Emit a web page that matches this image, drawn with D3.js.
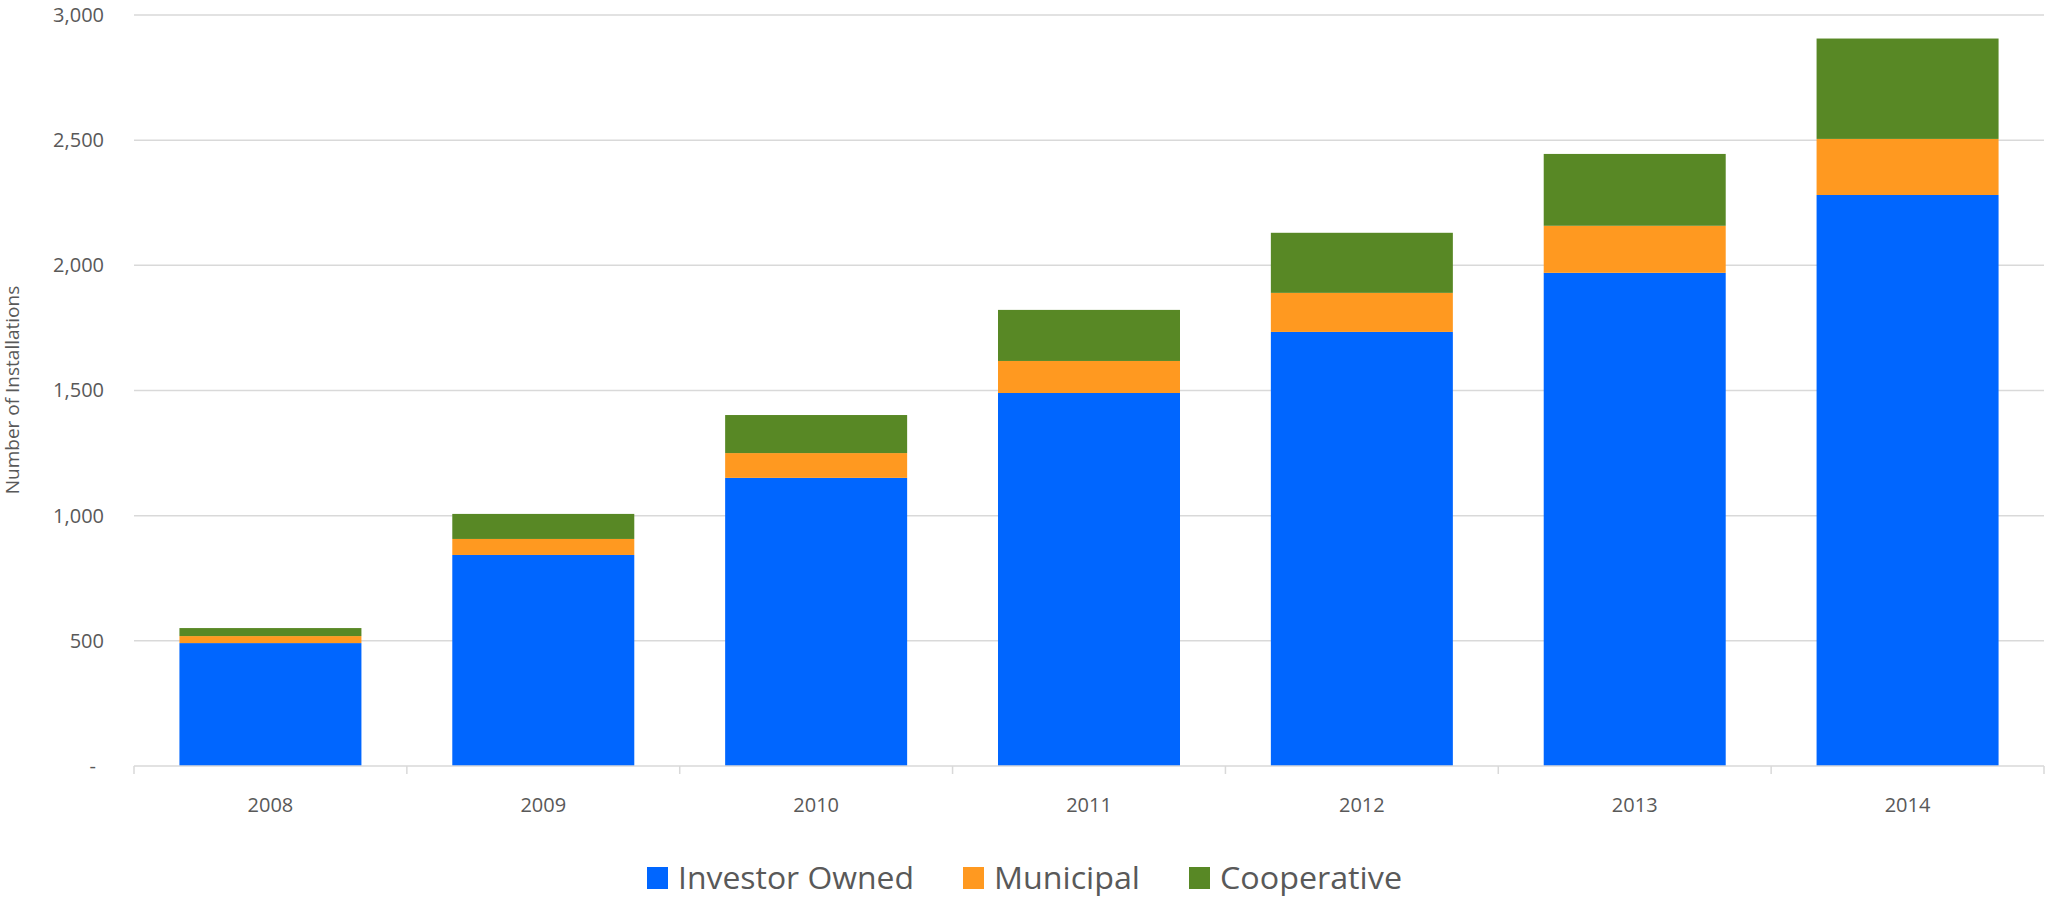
<!DOCTYPE html>
<html>
<head>
<meta charset="utf-8">
<script src="https://cdn.jsdelivr.net/npm/d3@7"></script>
<style>
  body { margin: 0; background: #fff; }
  text { font-family: "Open Sans", "Noto Sans", sans-serif; fill: #595959; }
</style>
</head>
<body>
<div id="chart"></div>
<script>
// data
const years = ['2008', '2009', '2010', '2011', '2012', '2013', '2014'];
const investorOwned = [491, 843, 1151, 1490, 1734, 1970, 2281];
const municipal = [28, 64, 99, 128, 156, 188, 224];
const cooperative = [32, 100, 152, 204, 240, 287, 401];
const yTicks = [0, 500, 1000, 1500, 2000, 2500, 3000];
const seriesNames = ['Investor Owned', 'Municipal', 'Cooperative'];
const seriesColors = ['#0066ff', '#ff9920', '#588825'];

const W = 2048, H = 901;
const margin = { top: 15, right: 4, bottom: 135, left: 134 };
const width = W - margin.left - margin.right;
const height = H - margin.top - margin.bottom;

const svg = d3.select('#chart')
    .append('svg')
    .attr('width', W)
    .attr('height', H);

const g = svg.append('g')
    .attr('transform', 'translate(' + margin.left + ',' + margin.top + ')');

const rows = years.map((y, i) => ({
    year: y,
    'Investor Owned': investorOwned[i],
    'Municipal': municipal[i],
    'Cooperative': cooperative[i]
}));
const stacked = d3.stack().keys(seriesNames)(rows);

const xScale = d3.scaleBand().domain(years).range([0, width]).paddingInner(0.333).paddingOuter(0.1665);
const xEdges = d3.scaleBand().domain(years).range([0, width]).padding(0);
const yScale = d3.scaleLinear().domain([0, 3000]).range([height, 0]);
const color = d3.scaleOrdinal().domain(seriesNames).range(seriesColors);

// gridlines
g.append('g')
    .selectAll('line')
    .data(yTicks.slice(1))
    .join('line')
    .attr('x1', 0).attr('x2', width)
    .attr('y1', d => yScale(d)).attr('y2', d => yScale(d))
    .attr('stroke', '#d9d9d9')
    .attr('stroke-width', 1.5);

// y axis labels
const yAxis = g.append('g')
    .call(d3.axisLeft(yScale).tickValues(yTicks).tickSize(0).tickPadding(30)
        .tickFormat(d => d === 0 ? '-' : d3.format(',')(d)));
yAxis.select('.domain').remove();
yAxis.selectAll('text').style('font-size', '20px').attr('fill', '#595959')
    .attr('x', d => d === 0 ? -38 : -30);

// bars
g.append('g')
    .selectAll('g')
    .data(stacked)
    .join('g')
    .attr('fill', d => color(d.key))
    .selectAll('rect')
    .data(d => d)
    .join('rect')
    .attr('x', d => xScale(d.data.year))
    .attr('y', d => yScale(d[1]))
    .attr('height', d => yScale(d[0]) - yScale(d[1]))
    .attr('width', xScale.bandwidth());

// x axis
const xAxis = g.append('g')
    .attr('transform', 'translate(0,' + height + ')');
xAxis.append('line')
    .attr('x1', 0).attr('x2', width)
    .attr('stroke', '#d9d9d9').attr('stroke-width', 1.5);
xAxis.selectAll('.tick-mark')
    .data(years.concat(['end']))
    .join('line')
    .attr('class', 'tick-mark')
    .attr('x1', (d, i) => i < years.length ? xEdges(d) : width)
    .attr('x2', (d, i) => i < years.length ? xEdges(d) : width)
    .attr('y1', 0).attr('y2', 8)
    .attr('stroke', '#d9d9d9').attr('stroke-width', 1.5);
xAxis.selectAll('.xlabel')
    .data(years)
    .join('text')
    .attr('class', 'xlabel')
    .attr('x', d => xScale(d) + xScale.bandwidth() / 2)
    .attr('y', 46)
    .attr('text-anchor', 'middle')
    .style('font-size', '20px')
    .text(d => d);

// y axis title
svg.append('text')
    .attr('transform', 'translate(19,390) rotate(-90)')
    .attr('text-anchor', 'middle')
    .style('font-size', '19px')
    .text('Number of Installations');

// legend
const legendX = [647, 963, 1189];
const legendW = [236, 146, 182];
const legend = svg.append('g');
seriesNames.forEach((name, i) => {
    legend.append('rect')
        .attr('x', legendX[i]).attr('y', 867)
        .attr('width', 21).attr('height', 22)
        .attr('fill', color(name));
    legend.append('text')
        .attr('x', legendX[i] + 31).attr('y', 889)
        .attr('textLength', legendW[i])
        .attr('lengthAdjust', 'spacingAndGlyphs')
        .style('font-size', '31px')
        .text(name);
});
</script>
</body>
</html>
